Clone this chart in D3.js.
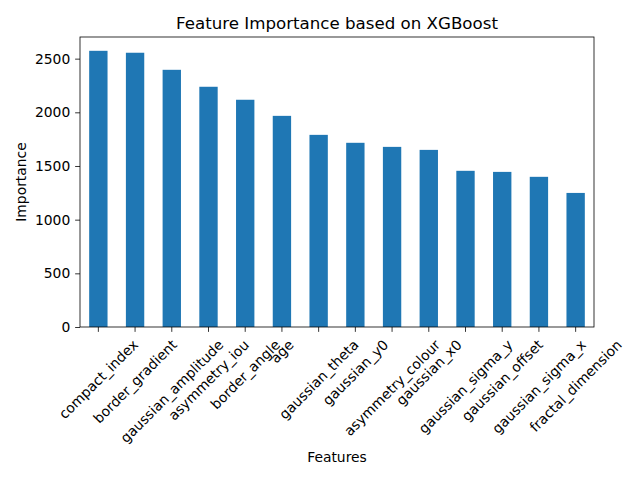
<!DOCTYPE html>
<html><head><meta charset="utf-8">
<script src="https://cdn.jsdelivr.net/npm/d3@7/dist/d3.min.js"></script>
<style>body{margin:0;background:#fff}text{font-family:"DejaVu Sans",sans-serif;fill:#000}</style>
</head><body><svg id="c" width="640" height="480"></svg>
<script>
const features = ["compact_index","border_gradient","gaussian_amplitude","asymmetry_iou","border_angle","age","gaussian_theta","gaussian_y0","asymmetry_colour","gaussian_x0","gaussian_sigma_y","gaussian_offset","gaussian_sigma_x","fractal_dimension"];
const importance = [2573,2555,2396,2238,2117,1967,1790,1716,1678,1650,1455,1445,1399,1249];
const yTicks = [0,500,1000,1500,2000,2500];

const svg = d3.select("#c");
const L=80, R=594, T=37, B=327;
const fs = 13.89;
const x = d3.scaleBand().domain(features).range([L,R]).paddingInner(0.5).paddingOuter(0.25);
const y = d3.scaleLinear().domain([0, d3.max(importance)*1.05]).range([B,T]);

svg.append("g").selectAll("rect").data(features).join("rect")
  .attr("x", d=>x(d)).attr("width", x.bandwidth())
  .attr("y", (d,i)=>y(importance[i])).attr("height", (d,i)=>B-y(importance[i]))
  .attr("fill","#1f77b4");

// y axis
const ya = svg.append("g").attr("transform",`translate(${L},0)`)
  .call(d3.axisLeft(y).tickValues(yTicks).tickSize(4.86).tickPadding(4.86).tickFormat(d3.format("d")));
ya.select(".domain").remove();
ya.selectAll("line").attr("stroke","#000").attr("stroke-width",0.8);
ya.selectAll("text").attr("font-size",fs).style("font-family","DejaVu Sans");

// x axis
const xa = svg.append("g").attr("transform",`translate(0,${B})`)
  .call(d3.axisBottom(x).tickSize(4.86).tickSizeOuter(0));
xa.select(".domain").remove();
xa.selectAll("line").attr("stroke","#000").attr("stroke-width",0.8);
const c45 = Math.SQRT1_2;
xa.selectAll("text").each(function(){
  const t = d3.select(this);
  t.attr("font-size",fs).style("font-family","DejaVu Sans").attr("text-anchor","middle").attr("dy",null);
  const w = this.getComputedTextLength();
  const h = fs*1.1;
  const bh = (w+h)*c45;
  const cy = 4.86+4.86+bh/2;
  t.attr("y",0).attr("x",0).attr("dominant-baseline","central")
   .attr("transform",`translate(0,${cy}) rotate(-45)`);
});

// frame
svg.append("rect").attr("x",L).attr("y",T).attr("width",R-L).attr("height",B-T)
  .attr("fill","none").attr("stroke","#000").attr("stroke-width",0.8);

svg.append("text").attr("x",(L+R)/2).attr("y",T-8).attr("text-anchor","middle")
  .attr("font-size",16.67).text("Feature Importance based on XGBoost");
svg.append("text").attr("x",(L+R)/2).attr("y",462).attr("text-anchor","middle")
  .attr("font-size",fs).text("Features");
svg.append("text").attr("transform",`translate(26,${(T+B)/2}) rotate(-90)`).attr("text-anchor","middle")
  .attr("font-size",fs).text("Importance");
</script></body></html>
